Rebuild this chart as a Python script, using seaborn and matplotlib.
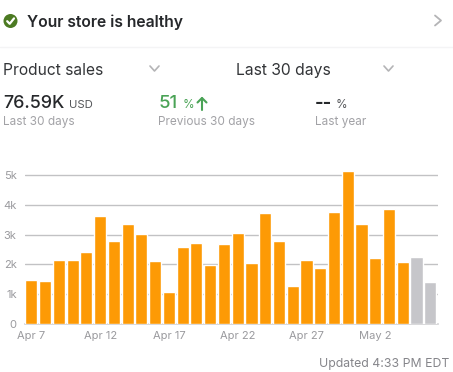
import pandas as pd
import matplotlib
matplotlib.use("Agg")
import matplotlib.pyplot as plt
import seaborn as sns
from matplotlib.patches import Circle

W, H = 453, 372

days = ["Apr %d" % d for d in range(7, 31)] + ["May %d" % d for d in range(1, 7)]
sales = [1470, 1450, 2150, 2160, 2400, 3620, 2780, 3350, 3030, 2120,
         1070, 2570, 2730, 1990, 2700, 3060, 2030, 3730, 2790, 1260,
         2130, 1890, 3750, 5130, 3360, 2210, 3880, 2090, 2250, 1420]
status = ["final"] * 28 + ["partial"] * 2
y_ticks = [0, 1000, 2000, 3000, 4000, 5000]
y_labels = ["0", "1k", "2k", "3k", "4k", "5k"]
x_labels = ["Apr 7", "Apr 12", "Apr 17", "Apr 22", "Apr 27", "May 2"]

df = pd.DataFrame({"day": days, "sales": sales, "status": status})

sns.set_theme(style="white")
plt.rcParams["font.family"] = ["Inter", "DejaVu Sans"]

fig = plt.figure(figsize=(W / 100, H / 100), dpi=100)

# chart area, in pixels of the reference (top leaves room for the tallest bar)
left, right, bottom, top = 25, 438, 323.7, 169.36
ax = fig.add_axes([left / W, 1 - bottom / H, (right - left) / W, (bottom - top) / H])
sns.barplot(data=df, x="day", y="sales", hue="status", dodge=False, width=0.88,
            palette={"final": "#fd9a05", "partial": "#c6c6ca"}, legend=False,
            saturation=1, zorder=3, ax=ax)
ax.set_xlim(-0.46, 29.56)
ax.set_ylim(0, 5200)
ax.set_xlabel("")
ax.set_ylabel("")
ax.set_yticks(y_ticks, y_labels)
ax.set_xticks([days.index(d) for d in x_labels], x_labels)
ax.tick_params(axis="both", length=0, labelsize=8, labelcolor="#9a9a9e")
ax.tick_params(axis="x", pad=5.5)
ax.tick_params(axis="y", pad=6)
ax.grid(axis="y", color="#c2c2c4", lw=1, zorder=0)
ax.set_axisbelow(True)
sns.despine(ax=ax, left=True, top=True, right=True)
ax.spines["bottom"].set_color("#d4d4d6")
ax.patch.set_alpha(0)

# overlay for the header, in pixel coordinates
ov = fig.add_axes([0, 0, 1, 1], zorder=-1)
ov.set_xlim(0, W)
ov.set_ylim(H, 0)
ov.axis("off")

dark = "#26282b"
grey = "#a2a2a6"
green = "#4aa356"

ov.add_patch(Circle((10.5, 21), 7, color="#4c7a22", lw=0))
ov.plot([7.2, 9.7, 14], [21.2, 23.8, 18.4], color="white", lw=1.6, solid_capstyle="round")
ov.text(27, 22, "Your store is healthy", fontsize=11.3, fontweight="semibold",
        color=dark, va="center")
ov.plot([435, 441, 435], [15.5, 20.5, 25.5], color="#b4b4b6", lw=1.3)
ov.plot([0, W], [46.5, 46.5], color="#f4f4f5", lw=1)

ov.text(3, 70.5, "Product sales", fontsize=11.2, color="#333538", va="center")
ov.text(236.5, 70.5, "Last 30 days", fontsize=11.3, color="#333538", va="center")
ov.plot([150, 154.5, 159], [66, 71, 66], color="#b4b4b6", lw=1.2)
ov.plot([384, 388.5, 393], [66, 71, 66], color="#b4b4b6", lw=1.2)

ov.text(3, 104, "76.59K", fontsize=12.9, fontweight="medium", color=dark, va="center")
ov.text(69.5, 105.5, "USD", fontsize=8.2, color="#55575a", va="center")
ov.text(3, 122, "Last 30 days", fontsize=8.5, color=grey, va="center")

ov.text(159, 104, "51", fontsize=13.4, fontweight="medium", color=green, va="center")
ov.text(183, 105.5, "%", fontsize=8.5, color=green, va="center")
ov.plot([202, 202], [98, 109.5], color=green, lw=1.5)
ov.plot([197.5, 202, 206.5], [102.5, 98, 102.5], color=green, lw=1.5)
ov.text(158.5, 122, "Previous 30 days", fontsize=8.5, color=grey, va="center")

ov.text(315, 104, "--", fontsize=13.2, fontweight="bold", color=dark, va="center")
ov.text(336, 105.5, "%", fontsize=8.5, color="#55575a", va="center")
ov.text(315, 122, "Last year", fontsize=8.5, color=grey, va="center")

ov.text(449, 364.5, "Updated 4:33 PM EDT", fontsize=8.8, color="#85858a", va="center", ha="right")

fig.savefig("out.png", dpi=100, facecolor="white")
